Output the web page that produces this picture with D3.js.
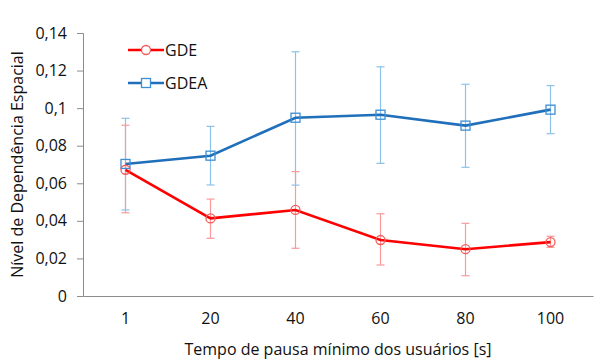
<!DOCTYPE html>
<html>
<head>
<meta charset="utf-8">
<script src="https://cdn.jsdelivr.net/npm/d3@7"></script>
<style>
  body { margin: 0; background: #fff; }
  text { font-family: "Open Sans", "Noto Sans", sans-serif; fill: #111; }
</style>
</head>
<body>
<svg id="chart"></svg>
<script>
const width = 597;
const height = 361;

// data
const categories = ["1", "20", "40", "60", "80", "100"];
const gde = [0.0672, 0.0413, 0.0458, 0.0298, 0.0249, 0.0287];
const gdeHigh = [0.0909, 0.0516, 0.0662, 0.0438, 0.0387, 0.0318];
const gdeLow = [0.0443, 0.0307, 0.0254, 0.0165, 0.0108, 0.0259];
const gdea = [0.0703, 0.0747, 0.0949, 0.0965, 0.0907, 0.0992];
const gdeaHigh = [0.0946, 0.0903, 0.130, 0.122, 0.1127, 0.112];
const gdeaLow = [0.0458, 0.0591, 0.059, 0.0706, 0.0685, 0.0864];
const yTicks = [0, 0.02, 0.04, 0.06, 0.08, 0.1, 0.12, 0.14];

const margin = {left: 83, right: 4, top: 33, bottom: 65};

var svg = d3.select("#chart")
    .attr("width", width)
    .attr("height", height);

var x = d3.scaleBand()
    .domain(categories)
    .range([margin.left, width - margin.right]);

var y = d3.scaleLinear()
    .domain([0, 0.14])
    .range([height - margin.bottom, margin.top]);

const fmt = d => d3.format("~g")(d).replace(".", ",");

// y axis
var yAxis = svg.append("g")
    .attr("transform", `translate(${margin.left},0)`)
    .call(d3.axisLeft(y).tickValues(yTicks).tickFormat(fmt).tickSize(6).tickPadding(10));
yAxis.select(".domain").attr("stroke", "#8c8c8c");
yAxis.selectAll(".tick line").attr("stroke", "#8c8c8c");
yAxis.selectAll(".tick text").style("font-size", "16px").attr("fill", "#111");

// x axis
var xAxis = svg.append("g")
    .attr("transform", `translate(0,${y(0)})`)
    .call(d3.axisBottom(x).tickSize(0).tickPadding(17));
xAxis.select(".domain").attr("stroke", "#8c8c8c");
xAxis.selectAll(".tick text").style("font-size", "16px").attr("fill", "#111");

// axis titles
svg.append("text")
    .attr("transform", `translate(23,${(y(0) + y(0.14)) / 2}) rotate(-90)`)
    .attr("text-anchor", "middle")
    .style("font-size", "16px")
    .text("Nível de Dependência Espacial");

svg.append("text")
    .attr("x", (x.range()[0] + x.range()[1]) / 2)
    .attr("y", 355)
    .attr("text-anchor", "middle")
    .style("font-size", "16px")
    .text("Tempo de pausa mínimo dos usuários [s]");

const cx = c => x(c) + x.bandwidth() / 2;

function errorBars(vals, low, high, color) {
    var g = svg.append("g").attr("stroke", color).attr("stroke-width", 1.2);
    categories.forEach((c, i) => {
        g.append("line").attr("x1", cx(c)).attr("x2", cx(c))
            .attr("y1", y(low[i])).attr("y2", y(high[i]));
        [low[i], high[i]].forEach(v => {
            g.append("line").attr("x1", cx(c) - 4).attr("x2", cx(c) + 4)
                .attr("y1", y(v)).attr("y2", y(v));
        });
    });
}

errorBars(gdea, gdeaLow, gdeaHigh, "#8cc2e8");
errorBars(gde, gdeLow, gdeHigh, "#f79a9a");

var line = d3.line()
    .x((d, i) => cx(categories[i]))
    .y(d => y(d));

svg.append("path").datum(gdea)
    .attr("fill", "none").attr("stroke", "#1f6fba").attr("stroke-width", 2.6)
    .attr("d", line);
svg.append("path").datum(gde)
    .attr("fill", "none").attr("stroke", "#ff0000").attr("stroke-width", 2.6)
    .attr("d", line);

// markers
svg.append("g").selectAll("rect")
    .data(gdea).enter().append("rect")
    .attr("x", (d, i) => cx(categories[i]) - 4.5)
    .attr("y", d => y(d) - 4.5)
    .attr("width", 9).attr("height", 9)
    .attr("fill", "none").attr("stroke", "#3d8fd4").attr("stroke-width", 1.3);

svg.append("g").selectAll("circle")
    .data(gde).enter().append("circle")
    .attr("cx", (d, i) => cx(categories[i]))
    .attr("cy", d => y(d))
    .attr("r", 4.5)
    .attr("fill", "none").attr("stroke", "#f55a5a").attr("stroke-width", 1.3);

// legend
var legend = svg.append("g");
[["GDE", "#ff0000", "#f55a5a", "circle", 50], ["GDEA", "#1f6fba", "#3d8fd4", "rect", 83]].forEach(l => {
    legend.append("line").attr("x1", 128).attr("x2", 164)
        .attr("y1", l[4]).attr("y2", l[4])
        .attr("stroke", l[1]).attr("stroke-width", 2.6);
    if (l[3] === "circle") {
        legend.append("circle").attr("cx", 146).attr("cy", l[4]).attr("r", 4.5)
            .attr("fill", "#fff").attr("stroke", l[2]).attr("stroke-width", 1.3);
    } else {
        legend.append("rect").attr("x", 141.5).attr("y", l[4] - 4.5)
            .attr("width", 9).attr("height", 9)
            .attr("fill", "#fff").attr("stroke", l[2]).attr("stroke-width", 1.3);
    }
    legend.append("text").attr("x", 165).attr("y", l[4] + 6)
        .style("font-size", "16px").text(l[0]);
});
</script>
</body>
</html>
